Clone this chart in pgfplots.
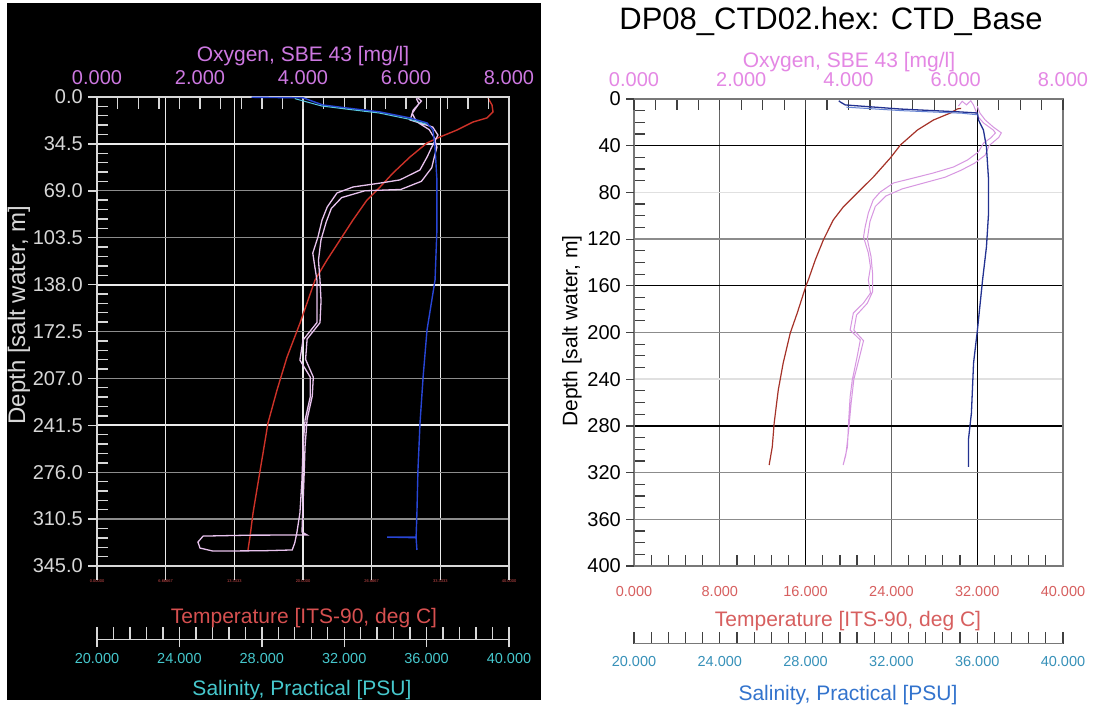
\documentclass[border=0pt]{standalone}
\usepackage{pgfplots}
\pgfplotsset{compat=1.18}
\usepackage{fontspec}
\setmainfont{Liberation Sans}

% left panel (dark scheme)
\definecolor{lgrid}{RGB}{235,235,235}
\definecolor{lgriddim}{RGB}{140,140,140}
\definecolor{laxis}{RGB}{215,215,215}
\definecolor{loxtxt}{RGB}{205,120,225}
\definecolor{ltemptxt}{RGB}{215,80,80}
\definecolor{lsaltxt}{RGB}{70,200,205}
\definecolor{loxline}{RGB}{232,195,238}
\definecolor{ltempline}{RGB}{205,50,40}
\definecolor{lsalline}{RGB}{40,70,215}
\definecolor{lsalcyan}{RGB}{90,200,225}
% right panel (light scheme)
\definecolor{raxis}{RGB}{120,120,120}
\definecolor{roxtxt}{RGB}{228,135,228}
\definecolor{rtemptxt}{RGB}{215,95,95}
\definecolor{rsaltxt}{RGB}{55,145,185}
\definecolor{rsaltitle}{RGB}{50,115,205}
\definecolor{roxline}{RGB}{215,150,225}
\definecolor{rtempline}{RGB}{165,50,40}
\definecolor{rsalline}{RGB}{35,50,145}
\definecolor{rsallight}{RGB}{100,130,210}

\newcommand{\lbl}{\fontsize{21}{24}\selectfont}
\newcommand{\tkl}{\fontsize{20}{22}\selectfont}
\newcommand{\tks}{\fontsize{14.5}{16}\selectfont}

\pgfplotsset{
  panel/.style={scale only axis, anchor=center,
    /pgf/number format/assume math mode=true,
    tick label style={font=\tkl, inner sep=0pt}},
  fix3/.style={/pgf/number format/fixed, /pgf/number format/fixed zerofill,
    /pgf/number format/precision=3},
  fix1/.style={/pgf/number format/fixed, /pgf/number format/fixed zerofill,
    /pgf/number format/precision=1},
  leftbox/.style={panel, at={(303pt,372.5pt)}, width=412pt, height=469pt,
    ymin=0, ymax=345, y dir=reverse},
  rightbox/.style={panel, at={(848.5pt,371.5pt)}, width=429pt, height=467pt,
    ymin=0, ymax=400, y dir=reverse},
  gridonly/.style={major tick length=0pt, xticklabels={}, yticklabels={},
    axis line style={draw=none}},
  % a thin axis that carries only a horizontal scale line
  scaleline/.style={panel, height=10pt, ymin=0, ymax=1, axis y line=none,
    minor x tick num=4, tick align=inside},
  % a thin frameless axis that carries labels along its top edge
  topscale/.style={panel, height=10pt, ymin=0, ymax=1, ytick=\empty,
    axis line style={draw=none}, xtick pos=right, xticklabel pos=right,
    major tick length=0pt, minor tick length=0pt},
}

\begin{document}
\begin{tikzpicture}[x=1pt,y=1pt]
\fill[white] (0,0) rectangle (1094,704);
\fill[black] (7,4) rectangle (541,701);

%================ LEFT PANEL ================
% grid
\begin{axis}[leftbox, gridonly, xmin=0, xmax=40,
  xtick={6.6667,13.3333,20,26.6667,33.3333},
  ytick={69,103.5,172.5,207,276,310.5},
  extra y ticks={34.5,138,241.5}, extra y tick labels={},
  extra y tick style={ymajorgrids=true, y grid style={lgrid, line width=1.8pt}},
  xmajorgrids, ymajorgrids,
  x grid style={lgrid, line width=1.4pt},
  y grid style={lgriddim, line width=1.4pt}]
\end{axis}

% depth / temperature frame
\begin{axis}[leftbox, xmin=0, xmax=40,
  axis line style={laxis, line width=1.6pt},
  tick style={laxis, line width=1.4pt},
  xtick={0,6.6667,13.3333,20,26.6667,33.3333,40},
  xticklabels={0.00000,6.66667,13.3333,20.0000,26.6667,33.3333,40.0000},
  xticklabel style={font=\fontsize{4}{4}\selectfont, text=ltemptxt, yshift=-14pt},
  ytick={0,34.5,69,103.5,138,172.5,207,241.5,276,310.5,345},
  yticklabel style={text=laxis, fix1, xshift=-14pt},
  minor x tick num=4, minor y tick num=4,
  xtick pos=bottom, ytick pos=left,
  tick align=inside, major tick length=0pt, minor tick length=11pt,
  extra x ticks={0,6.6667,13.3333,20,26.6667,33.3333,40}, extra x tick labels={},
  extra x tick style={tick align=outside, major tick length=14pt},
  extra y ticks={0,34.5,69,103.5,138,172.5,207,241.5,276,310.5,345}, extra y tick labels={},
  extra y tick style={tick align=outside, major tick length=9pt}]
\addplot[ltempline, line width=1.4pt] coordinates {
(37.96,0.7) (38.35,5.9) (38.45,11) (37.86,15.4) (36.5,18.4) (34.95,24.3)
(33.3,29.4) (32.04,33.8) (30.39,44.1) (28.74,55.9) (27.48,66.2) (26.21,75.8)
(24.85,90.5) (23.59,105.2) (22.33,119.9) (21.17,134.6) (19.71,166.3)
(18.45,191.3) (17.48,215.5) (16.6,239.8) (16.12,261.9) (15.63,284)
(15.15,306) (14.85,323.7) (14.66,333.2)};
\end{axis}

% oxygen ticks hanging down from the top edge
\begin{axis}[scaleline, at={(303pt,612pt)}, width=412pt, xmin=0, xmax=8,
  axis x line*=bottom, axis line style={-, laxis, line width=1.6pt},
  tick style={laxis, line width=1.4pt}, tick align=outside,
  xtick={0,2,4,6,8}, xticklabels={}, major tick length=12pt, minor tick length=12pt]
\end{axis}
% oxygen tick labels
\begin{axis}[topscale, at={(303pt,602pt)}, width=412pt, xmin=0, xmax=8,
  xtick={0,2,4,6,8},
  xticklabel style={text=loxtxt, fix3, yshift=12pt}]
\end{axis}

% oxygen curve
\begin{axis}[leftbox, xmin=0, xmax=8, hide x axis, hide y axis]
\addplot[loxline, line width=1.3pt] coordinates {
(6.23,0.7) (6.30,3) (6.14,9.6) (6.08,16.9) (6.30,19.5) (6.52,22.1) (6.62,28)
(6.50,36.8) (6.41,44.1) (6.27,53.7) (5.88,61) (5.50,63.3) (4.97,66.2)
(4.66,70.6) (4.47,80.9) (4.37,90.5) (4.29,103) (4.19,114.8) (4.23,125)
(4.27,134.6) (4.27,150) (4.27,166) (4.0,178.8) (3.94,193.5) (4.14,206)
(4.14,220.7) (4.04,237.6) (4.0,257.5) (3.98,281.7) (3.94,306) (3.88,320.7)
(3.84,328) (3.79,333.2)
(3.2,333.8) (2.25,334) (2.0,331.8) (1.96,327.4) (2.06,323) (3.0,322.3) (4.08,322.2)
(3.98,320) (4.0,300) (4.02,280) (4.04,257) (4.08,237) (4.18,220) (4.2,206)
(4.05,193) (4.08,178) (4.33,166) (4.35,150) (4.33,134.6) (4.30,120) (4.35,105)
(4.45,92) (4.55,82) (4.75,74) (5.2,69) (5.9,68) (6.3,62) (6.5,52) (6.55,44)
(6.6,37) (6.55,30) (6.45,24) (6.2,18) (6.12,12) (6.25,5) (6.2,1)};
\end{axis}

% salinity curve
\begin{axis}[leftbox, xmin=20, xmax=40, hide x axis, hide y axis]
\addplot[lsalline, line width=1.4pt] coordinates {
(27.5,0.2) (30.0,0.6) (30.97,5.9) (32.14,8.1) (33.74,11) (35.19,15.4)
(36.02,19.1) (36.31,24.3) (36.41,36.8) (36.50,61) (36.50,97.8) (36.41,134.6)
(36.02,171.4) (35.83,206) (35.68,239.8) (35.58,274.4) (35.53,306)
(35.49,323.7) (34.08,323.7) (35.49,324.2) (35.53,333.2)};
\addplot[lsalcyan, line width=1pt] coordinates {
(29.6,1.2) (30.9,6.6) (32.1,8.9) (33.7,11.8) (35.1,16.2) (36.0,20)};
\end{axis}

% salinity scale
\begin{axis}[scaleline, at={(303pt,69.7pt)}, width=412pt,
  xmin=20, xmax=40, axis x line*=bottom,
  axis line style={-, laxis, line width=1.6pt},
  tick style={laxis, line width=1.4pt},
  xtick={20,24,28,32,36,40}, major tick length=12pt, minor tick length=12pt,
  extra x ticks={20,24,28,32,36,40}, extra x tick labels={},
  extra x tick style={tick align=outside, major tick length=8pt},
  xticklabel style={font=\tks, text=lsaltxt, fix3, yshift=-14pt}]
\end{axis}

\node[anchor=base, font=\lbl, text=loxtxt] at (303,642) {Oxygen, SBE 43 [mg/l]};
\node[anchor=base, font=\lbl, text=ltemptxt] at (304,81) {Temperature [ITS-90, deg C]};
\node[anchor=base, font=\lbl, text=lsaltxt] at (302,9) {Salinity, Practical [PSU]};
\node[rotate=90, font=\fontsize{24}{26}\selectfont, text=laxis] at (19,389) {Depth [salt water, m]};

%================ RIGHT PANEL ================
\begin{axis}[rightbox, gridonly, xmin=0, xmax=40,
  xtick={8,24}, ytick={80,240},
  extra y ticks={40,160,280}, extra y tick labels={},
  extra y tick style={ymajorgrids=true, y grid style={black, line width=1.3pt}},
  xmajorgrids, ymajorgrids,
  x grid style={black!60, line width=1.3pt},
  y grid style={black!12, line width=1.6pt}]
\end{axis}
\begin{axis}[rightbox, gridonly, xmin=0, xmax=40,
  xtick={16,32}, ytick={120,200,320,360},
  xmajorgrids, ymajorgrids,
  x grid style={black, line width=1.3pt},
  y grid style={black!45, line width=1.3pt}]
\end{axis}

\begin{axis}[rightbox, xmin=0, xmax=40,
  axis line style={raxis, line width=1.2pt},
  tick style={black!75, line width=1.2pt},
  xtick={0,8,16,24,32,40},
  xticklabel style={font=\tks, text=rtemptxt, fix3, yshift=-20pt},
  ytick={0,40,80,120,160,200,240,280,320,360,400},
  yticklabel style={text=black, xshift=-13pt},
  minor x tick num=4, minor y tick num=3,
  xtick pos=bottom, ytick pos=left,
  tick align=inside, major tick length=0pt, minor tick length=11pt,
  extra y ticks={0,40,80,120,160,200,240,280,320,360,400}, extra y tick labels={},
  extra y tick style={tick align=outside, major tick length=8pt}]
\addplot[rtempline, line width=1.2pt] coordinates {
(30.5,8) (30.16,8.5) (29.5,12) (27.92,18) (26.42,26.6) (24.84,39.4)
(23.9,50.5) (22.32,66.8) (20.82,80.5) (19.51,92.5) (18.58,103.6)
(17.65,120.8) (16.9,137.9) (16.25,155) (16.06,159.3) (15.22,183.3)
(14.57,200.4) (13.91,226.1) (13.45,249.3) (13.07,277.5) (12.89,298.1)
(12.6,313.5)};
\end{axis}

\begin{axis}[scaleline, at={(848.5pt,610pt)}, width=429pt, xmin=0, xmax=8,
  axis x line*=bottom, axis line style={-, raxis, line width=1.2pt},
  tick style={black!75, line width=1.2pt}, tick align=outside,
  xtick={0,2,4,6,8}, xticklabels={}, major tick length=11pt, minor tick length=11pt]
\end{axis}
\begin{axis}[topscale, at={(848.5pt,600pt)}, width=429pt, xmin=0, xmax=8,
  xtick={0,2,4,6,8},
  xticklabel style={text=roxtxt, fix3, yshift=12pt}]
\end{axis}

\begin{axis}[rightbox, xmin=0, xmax=8, hide x axis, hide y axis]
\addplot[roxline, line width=1pt] coordinates {
(6.05,6) (6.12,2) (6.2,5) (6.28,1.5) (6.33,5.1) (6.42,15.4) (6.52,20.6)
(6.70,26.6) (6.74,29.1) (6.65,33.4) (6.52,37.7) (6.42,45.4) (6.22,52.2)
(5.96,58.2) (5.58,63.4) (5.21,67.7) (4.84,71.9) (4.59,79.7) (4.46,86.5)
(4.37,97.6) (4.31,109.6) (4.28,118.2) (4.37,131.9) (4.41,143.9) (4.37,155)
(4.41,166.2) (4.28,174.7) (4.09,183.3) (4.03,197.9) (4.22,206.4) (4.16,221)
(4.07,240.7) (4.03,255.2) (4.0,277.5) (3.98,298) (3.90,313.5)
(3.95,305) (4.0,285) (4.05,260) (4.1,240) (4.2,222) (4.28,207) (4.1,198)
(4.15,185) (4.35,175) (4.45,165) (4.45,150) (4.42,135) (4.35,120) (4.4,105)
(4.5,92) (4.7,83) (5.0,77) (5.4,72) (5.8,67) (6.1,61) (6.35,55) (6.55,48)
(6.62,40) (6.8,33) (6.85,29) (6.7,24) (6.55,18) (6.45,12) (6.4,6)};
\end{axis}

\begin{axis}[rightbox, xmin=20, xmax=40, hide x axis, hide y axis]
\addplot[rsalline, line width=1.3pt] coordinates {
(29.55,1.5) (29.62,2.6) (29.85,5.1) (32.42,8.6) (35.22,11.1) (36.01,12)
(36.06,18) (36.29,26.6) (36.43,41.1) (36.53,69.4) (36.53,97.6) (36.43,126.8)
(36.25,155) (36.01,197.9) (35.83,226.1) (35.73,269) (35.59,292) (35.59,315.2)};
\addplot[rsallight, line width=1pt] coordinates {
(29.9,7) (32.5,10) (35.3,12.2) (36.0,13.5)};
\end{axis}

\begin{axis}[scaleline, at={(848.5pt,65.5pt)}, width=429pt,
  xmin=20, xmax=40, axis x line*=bottom,
  axis line style={-, raxis, line width=1.2pt},
  tick style={black!75, line width=1.2pt},
  xtick={20,24,28,32,36,40}, major tick length=11pt, minor tick length=11pt,
  xticklabel style={font=\tks, text=rsaltxt, fix3, yshift=-13pt}]
\end{axis}

\node[anchor=base, font=\fontsize{31}{34}\selectfont] at (831,674) {DP08\_CTD02.hex: CTD\_Base};
\node[anchor=base, font=\lbl, text=roxtxt] at (849,636) {Oxygen, SBE 43 [mg/l]};
\node[anchor=base, font=\lbl, text=rtemptxt] at (848,78) {Temperature [ITS-90, deg C]};
\node[anchor=base, font=\lbl, text=rsaltitle] at (848,4) {Salinity, Practical [PSU]};
\node[rotate=90, font=\lbl] at (572,373) {Depth [salt water, m]};

\pgfresetboundingbox
\useasboundingbox (0,0) rectangle (1094,704);
\end{tikzpicture}
\end{document}
